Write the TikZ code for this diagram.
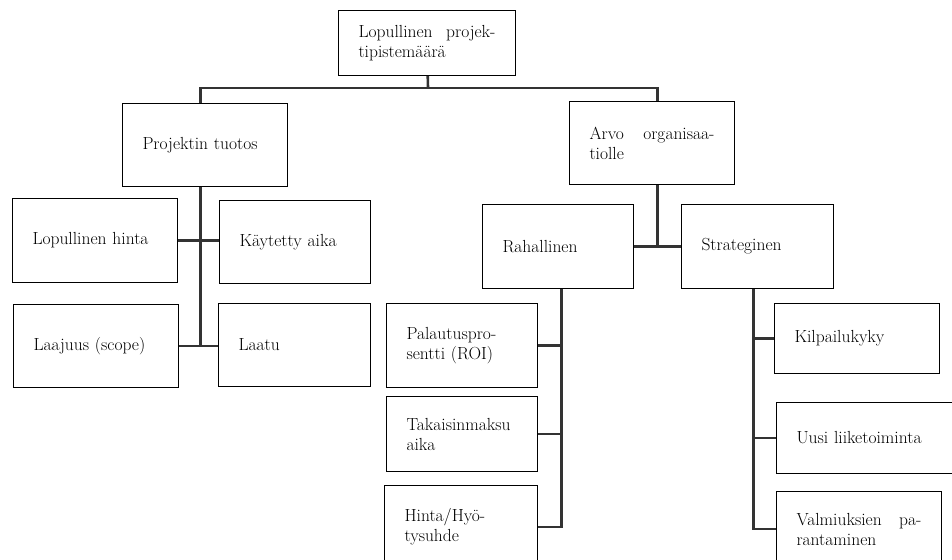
\documentclass[tikz,border=0pt]{standalone}
\usepackage{fontspec}
\usepackage{tikz}
\usetikzlibrary{positioning}

\begin{document}
\begin{tikzpicture}[
    x=1pt, y=-1pt,
    box/.style={rectangle, draw, line width=1pt, anchor=north west, inner xsep=20pt, inner ysep=0pt,
                align=left, font=\fontsize{17.5}{20}\selectfont},
    conn/.style={line width=2.6pt, draw=black!80}
]
\useasboundingbox (0,0) rectangle (952,559);
\clip (0,0) rectangle (952,559);

% top level
\node[box, text width=137pt, minimum height=65pt] (final) at (338,10) {Lopullinen\hfill projek-\\tipistemäärä};

% left branch
\node[box, text width=125pt, minimum height=83pt] (output) at (122,103) {Projektin tuotos};
\node[box, text width=125pt, minimum height=84pt] (price) at (12,198) {Lopullinen hinta};
\node[box, text width=111pt, minimum height=83pt] (time) at (219,200) {Käytetty aika};
\node[box, text width=125pt, minimum height=83pt] (scope) at (13,304) {Laajuus (scope)};
\node[box, text width=112pt, minimum height=83pt] (quality) at (218,303) {Laatu};

% right branch
\node[box, text width=125pt, minimum height=83pt] (value) at (569,101) {Arvo\hfill organisaa-\\tiolle};
\node[box, text width=111pt, minimum height=84pt] (money) at (482,204) {Rahallinen};
\node[box, text width=112pt, minimum height=84pt] (strategy) at (681,204) {Strateginen};

\node[box, text width=111pt, minimum height=84pt] (roi) at (386,303) {Palautuspro-\\sentti (ROI)};
\node[box, text width=111pt, minimum height=75pt] (payback) at (386,396) {Takaisinmaksu\\aika};
\node[box, text width=113pt, minimum height=83pt] (benefit) at (384,485) {Hinta/Hyö-\\tysuhde};

\node[box, text width=125pt, minimum height=70pt] (compete) at (774,303) {Kilpailukyky};
\node[box, text width=137pt, minimum height=71pt] (business) at (776,402) {Uusi liiketoiminta};
\node[box, text width=125pt, minimum height=75pt] (skills) at (776,491) {Valmiuksien\hfill pa-\\rantaminen};

% connectors
\coordinate (bus) at (428,88);
\draw[conn] (final) -- (bus);
\draw[conn] ([xshift=-4.5pt]output.north) |- (bus) -| ([xshift=5.5pt]value.north);

\draw[conn] ([xshift=-4.5pt]output.south) -- ([xshift=-4.5pt]output.south |- scope.east);
\draw[conn] (price.east) -- (price.east -| time.west);
\draw[conn] (scope.east) -- (scope.east -| quality.west);

\draw[conn] ([xshift=5.5pt]value.south) -- ([xshift=5.5pt]value.south |- money.east);
\draw[conn] (money.east) -- (strategy.west);

\coordinate (moneytrunk) at ([xshift=3.5pt]money.south);
\draw[conn] (moneytrunk) |- (benefit.east);
\draw[conn] (roi.east) -- (roi.east -| moneytrunk);
\draw[conn] (payback.east) -- (payback.east -| moneytrunk);

\coordinate (strategytrunk) at ([xshift=-4pt]strategy.south);
\draw[conn] (strategytrunk) |- (skills.west);
\draw[conn] (compete.west) -- (compete.west -| strategytrunk);
\draw[conn] (business.west) -- (business.west -| strategytrunk);
\end{tikzpicture}
\end{document}
